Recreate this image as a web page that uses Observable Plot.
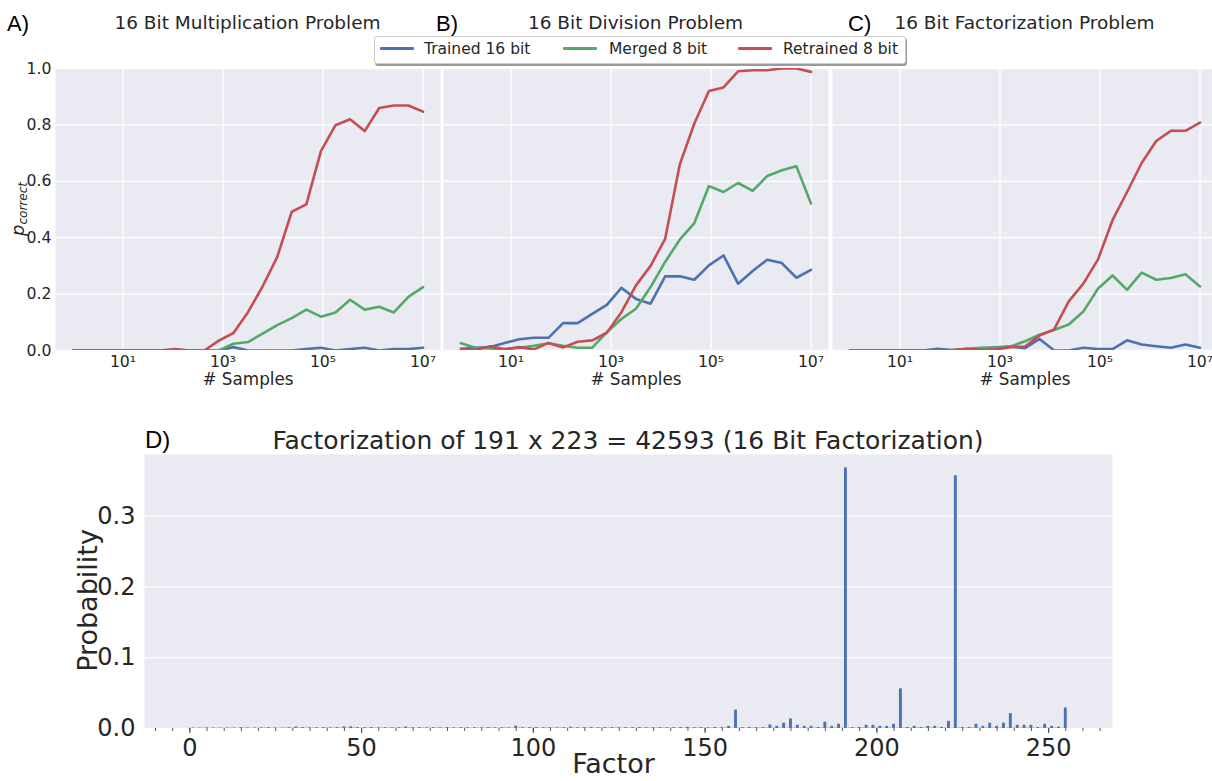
<!DOCTYPE html>
<html><head><meta charset="utf-8">
<script src="https://cdn.jsdelivr.net/npm/d3@7"></script>
<script src="https://cdn.jsdelivr.net/npm/@observablehq/plot@0.6"></script>
<style>
body{margin:0;background:#fff;overflow:hidden}
#root{position:relative;width:1212px;height:781px;overflow:hidden;font-family:"DejaVu Sans",sans-serif;color:#262626;background:#fff}
.abs{position:absolute;white-space:nowrap;line-height:1}
.ctr{transform:translateX(-50%)}
.lab{font-family:"Liberation Sans",Arial,sans-serif;color:#000}
</style></head><body><div id="root"></div>
<script>
// ---------- data ----------
const samples = [1, 1.957, 3.831, 7.499, 14.68, 28.73, 56.23, 110.1, 215.4, 421.7, 825.4, 1616, 3162, 6190, 12115, 23714, 46416, 90852, 177828, 348070, 681292, 1333521, 2610157, 5108970, 10000000];
const seriesNames = ["Trained 16 bit", "Merged 8 bit", "Retrained 8 bit"];
const seriesColors = ["#4C72B0", "#55A868", "#C44E52"];
const xTicks = [10, 1e3, 1e5, 1e7];
const yTicks = [0, 0.2, 0.4, 0.6, 0.8, 1.0];

const multTrained   = [0,0,0,0,0,0,0,0,0,0,0,0.012,0,0,0,0,0.005,0.01,0,0.005,0.01,0,0.005,0.005,0.01];
const multMerged    = [0,0,0,0,0,0,0,0,0,0,0,0.024,0.03,0.06,0.09,0.115,0.145,0.12,0.135,0.18,0.145,0.155,0.135,0.19,0.225];
const multRetrained = [0,0,0,0,0,0,0,0.005,0,0,0.035,0.062,0.136,0.227,0.331,0.492,0.518,0.707,0.799,0.82,0.778,0.86,0.869,0.869,0.847];

const divTrained    = [0.006,0.01,0.012,0.027,0.04,0.045,0.045,0.097,0.097,0.13,0.162,0.222,0.183,0.166,0.263,0.263,0.251,0.302,0.337,0.237,0.282,0.322,0.31,0.258,0.286];
const divMerged     = [0.026,0.01,0.007,0.005,0.01,0.017,0.026,0.017,0.01,0.01,0.065,0.112,0.148,0.225,0.314,0.393,0.452,0.583,0.562,0.594,0.566,0.619,0.639,0.653,0.521];
const divRetrained  = [0.005,0.002,0.015,0.004,0.012,0.004,0.027,0.011,0.031,0.036,0.063,0.136,0.231,0.3,0.396,0.659,0.805,0.92,0.933,0.99,0.994,0.994,1.0,1.0,0.988];

const facTrained    = [0,0,0,0,0,0,0.006,0.002,0.003,0.008,0.011,0.014,0.008,0.041,0,0,0.01,0.005,0.005,0.036,0.021,0.015,0.01,0.021,0.01];
const facMerged     = [0,0,0,0,0,0,0,0,0.006,0.01,0.01,0.014,0.033,0.056,0.073,0.092,0.138,0.219,0.266,0.215,0.276,0.251,0.257,0.27,0.227];
const facRetrained  = [0,0,0,0,0,0,0,0.002,0.006,0.002,0.004,0.012,0.014,0.053,0.075,0.174,0.237,0.322,0.462,0.562,0.665,0.743,0.779,0.779,0.808];

// probability of each factor 0..255 (panel D)
const factorProb = [
 0.0002,0.0008,0.0003,0.0007,0.0004,0.0009,0.0003,0.0008,0.0004,0.0007,0.0003,0.0009,0.0004,0.0008,0.0003,0.0012,
 0.0004,0.0009,0.0003,0.0008,0.0004,0.0010,0.0005,0.0012,0.0004,0.0009,0.0003,0.0008,0.0005,0.0011,0.0004,0.0020,
 0.0005,0.0013,0.0004,0.0010,0.0005,0.0011,0.0004,0.0012,0.0005,0.0010,0.0004,0.0012,0.0005,0.0022,0.0004,0.0024,
 0.0005,0.0012,0.0004,0.0011,0.0005,0.0013,0.0004,0.0010,0.0005,0.0012,0.0004,0.0011,0.0005,0.0012,0.0004,0.0020,
 0.0005,0.0011,0.0004,0.0012,0.0005,0.0010,0.0004,0.0012,0.0005,0.0011,0.0004,0.0013,0.0005,0.0010,0.0004,0.0012,
 0.0005,0.0011,0.0004,0.0012,0.0005,0.0010,0.0004,0.0013,0.0005,0.0011,0.0004,0.0012,0.0005,0.0010,0.0004,0.0032,
 0.0005,0.0011,0.0004,0.0012,0.0005,0.0013,0.0004,0.0011,0.0005,0.0012,0.0004,0.0010,0.0005,0.0012,0.0004,0.0018,
 0.0005,0.0011,0.0004,0.0012,0.0005,0.0013,0.0004,0.0011,0.0005,0.0012,0.0004,0.0013,0.0005,0.0011,0.0004,0.0012,
 0.0005,0.0012,0.0004,0.0013,0.0005,0.0011,0.0004,0.0012,0.0005,0.0013,0.0004,0.0011,0.0005,0.0012,0.0004,0.0013,
 0.0005,0.0016,0.0004,0.0012,0.0005,0.0013,0.0004,0.0011,0.0005,0.0015,0.0004,0.0012,0.0005,0.0030,0.0004,0.0260,
 0.0005,0.0012,0.0004,0.0015,0.0005,0.0012,0.0004,0.0013,0.0005,0.0050,0.0004,0.0030,0.0005,0.0075,0.0004,0.0135,
 0.0005,0.0045,0.0004,0.0030,0.0005,0.0030,0.0004,0.0015,0.0005,0.0090,0.0004,0.0030,0.0005,0.0060,0.0004,0.3680,
 0.0005,0.0012,0.0004,0.0015,0.0005,0.0045,0.0004,0.0045,0.0005,0.0030,0.0004,0.0030,0.0005,0.0060,0.0004,0.0560,
 0.0005,0.0015,0.0004,0.0030,0.0005,0.0015,0.0004,0.0030,0.0005,0.0030,0.0004,0.0015,0.0005,0.0100,0.0004,0.3570,
 0.0005,0.0015,0.0004,0.0015,0.0005,0.0060,0.0004,0.0030,0.0005,0.0075,0.0004,0.0030,0.0005,0.0075,0.0004,0.0210,
 0.0005,0.0045,0.0004,0.0045,0.0005,0.0045,0.0004,0.0015,0.0005,0.0060,0.0004,0.0030,0.0005,0.0020,0.0004,0.0290
];
const factorTicks = [0, 50, 100, 150, 200, 250];
const factorMinorTicks = [-10,-5,0,5,10,15,20,25,30,35,40,45,50,55,60,65,70,75,80,85,90,95,100,105,110,115,120,125,130,135,140,145,150,155,160,165,170,175,180,185,190,195,200,205,210,215,220,225,230,235,240,245,250,255,260,265];
const probTicks = [0, 0.1, 0.2, 0.3];

// ---------- helpers ----------
const root = document.getElementById("root");
const BG = "#EAEAF2", INK = "#262626";
const sup = {1: "\u00b9", 3: "\u00b3", 5: "\u2075", 7: "\u2077"};

function place(el, left, top) {
  el.style.position = "absolute";
  el.style.left = left + "px";
  el.style.top = top + "px";
  el.style.overflow = "visible";
  root.appendChild(el);
}
function addText(html, left, top, cls, style) {
  const d = document.createElement("div");
  d.className = "abs " + (cls || "");
  d.innerHTML = html;
  d.style.left = left + "px";
  d.style.top = top + "px";
  if (style) Object.assign(d.style, style);
  root.appendChild(d);
  return d;
}

function linePanel(values, opt) {
  const rows = [];
  values.forEach((arr, si) => arr.forEach((v, i) => rows.push({x: samples[i], y: v, s: seriesNames[si]})));
  return Plot.plot({
    width: opt.width, height: 400,
    marginLeft: opt.ml, marginRight: opt.mr, marginTop: 68, marginBottom: 50,
    style: {fontFamily: "DejaVu Sans", fontSize: "15.7px", color: INK, background: "transparent", overflow: "visible"},
    x: {type: "log", domain: [Math.pow(10, -0.35), Math.pow(10, 7.35)], axis: null},
    y: {domain: [0, 1], axis: null},
    color: {domain: seriesNames, range: seriesColors},
    marks: [
      Plot.frame({fill: BG, stroke: "none"}),
      Plot.gridX(xTicks, {stroke: "white", strokeOpacity: 1, strokeWidth: 1.3}),
      Plot.gridY(yTicks, {stroke: "white", strokeOpacity: 1, strokeWidth: 1.3}),
      Plot.line(rows, {x: "x", y: "y", z: "s", stroke: "s", strokeWidth: 2.6, clip: true}),
      Plot.axisX(xTicks, {tickSize: 0, tickPadding: 5, label: null,
        tickFormat: d => "10" + sup[Math.round(Math.log10(d))], fill: INK}),
      opt.showY ? Plot.axisY(yTicks, {tickSize: 0, tickPadding: 4, label: null, tickFormat: d3.format(".1f"), fill: INK}) : null,
      Plot.text(["# Samples"], {text: d => d, frameAnchor: "bottom", dy: 34, fontSize: 16.8, fill: INK})
    ]
  });
}

// ---------- top panels ----------
const A = linePanel([multTrained, multMerged, multRetrained], {width: 441, ml: 55, mr: 1, showY: true});
const B = linePanel([divTrained, divMerged, divRetrained], {width: 389, ml: 2, mr: 2, showY: false});
const C = linePanel([facTrained, facMerged, facRetrained], {width: 387, ml: 2, mr: 0, showY: false});
place(A, 0, 0); place(B, 441, 0); place(C, 830, 0);

// panel labels and titles
addText("A)", 7, 13, "lab", {fontSize: "22px"});
addText("B)", 436, 13, "lab", {fontSize: "22px"});
addText("C)", 848, 13, "lab", {fontSize: "22px"});
addText("16 Bit Multiplication Problem", 247.5, 14.3, "ctr", {fontSize: "18.5px"});
addText("16 Bit Division Problem", 635.5, 14.3, "ctr", {fontSize: "18.5px"});
addText("16 Bit Factorization Problem", 1024.5, 14.3, "ctr", {fontSize: "18.5px"});

// y label p_correct
addText('<i>p</i><sub style="font-size:12px;vertical-align:-3px"><i>correct</i></sub>', 19, 209, "", {
  fontSize: "18px", transform: "translate(-50%,-50%) rotate(-90deg)"});

// legend
const leg = document.createElement("div");
Object.assign(leg.style, {position: "absolute", left: "374px", top: "36px", width: "530px", height: "26px",
  border: "1px solid #cccccc", borderRadius: "3px", background: "#fff", boxShadow: "1px 2px 0 #9a9a9a"});
root.appendChild(leg);
const legX = [[380, 424], [563, 609], [738, 783]];
seriesNames.forEach((n, i) => {
  const ln = document.createElement("div");
  Object.assign(ln.style, {position: "absolute", left: legX[i][0] + "px", top: "47px", width: "34px", height: "3px",
    background: seriesColors[i], borderRadius: "1px"});
  root.appendChild(ln);
  addText(n, legX[i][1], 41.5, "", {fontSize: "15.5px"});
});

// ---------- panel D ----------
const bars = factorProb.map((p, f) => ({f, p}));
const D = Plot.plot({
  width: 1212, height: 381,
  marginLeft: 144, marginRight: 100, marginTop: 54, marginBottom: 53,
  style: {fontFamily: "DejaVu Sans", fontSize: "24px", color: INK, background: "transparent", overflow: "visible"},
  x: {type: "linear", domain: [-13.2, 268.6], axis: null},
  y: {domain: [0, 0.387], axis: null},
  marks: [
    Plot.frame({fill: BG, stroke: "none"}),
    Plot.gridY(probTicks, {stroke: "white", strokeOpacity: 1, strokeWidth: 1.3}),
    Plot.rectY(bars, {x1: d => d.f - 0.42, x2: d => d.f + 0.42, y: "p", fill: "#4C72B0"}),
    Plot.axisX(factorMinorTicks, {tickSize: 3, tickFormat: () => "", stroke: "#555", strokeWidth: 1, label: null}),
    Plot.axisX(factorTicks, {tickSize: 5, tickPadding: 5, stroke: "#555", strokeWidth: 1.2, fill: INK, label: null}),
    Plot.axisY(probTicks, {tickSize: 0, tickPadding: 9, tickFormat: d3.format(".1f"), fill: INK, label: null}),
    Plot.text(["Factor"], {text: d => d, frameAnchor: "bottom", dx: -15, dy: 44, fontSize: 27, fill: INK}),
    Plot.text(["Probability"], {text: d => d, frameAnchor: "left", textAnchor: "middle", dx: -56, dy: 9, rotate: -90, fontSize: 27, fill: INK})
  ]
});
place(D, 0, 400);
addText("D)", 145, 428, "lab", {fontSize: "24px"});
addText("Factorization of 191 x 223 = 42593 (16 Bit Factorization)", 628, 427.5, "ctr", {fontSize: "25px"});
</script>
</body></html>
